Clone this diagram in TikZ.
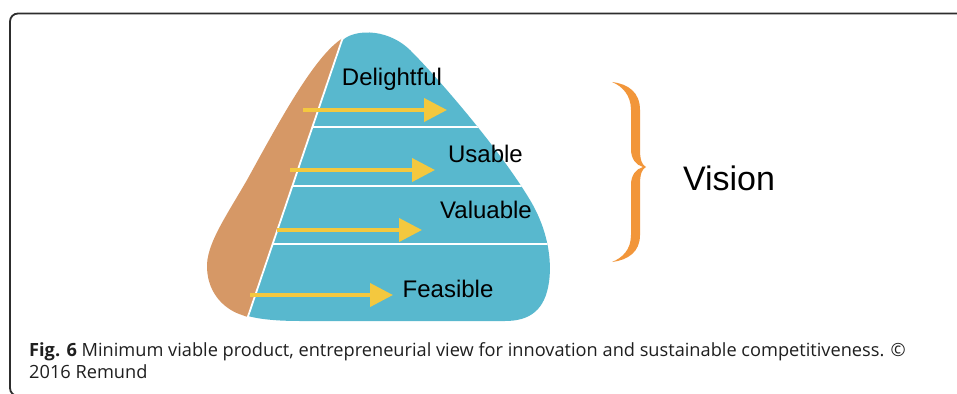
\documentclass[tikz,border=0pt]{standalone}
\usepackage{fontspec}
\setmainfont{Liberation Sans}
\newfontfamily\capfont{Open Sans}
\usetikzlibrary{arrows.meta}
\definecolor{pyrblue}{RGB}{88,184,206}
\definecolor{pyrorange}{RGB}{214,152,102}
\definecolor{arrowyellow}{RGB}{244,200,62}
\definecolor{braceorange}{RGB}{242,150,58}
\definecolor{framegray}{RGB}{45,45,45}
\tikzset{
  frameline/.style={draw=framegray, line width=1.8pt, rounded corners=8pt},
  sepline/.style={draw=white, line width=2.6pt},
  divline/.style={draw=white, line width=1.8pt},
  yarrow/.style={draw=arrowyellow, line width=4pt, -{Triangle[length=23pt,width=23pt]}},
  lbl/.style={anchor=base, inner sep=0pt, text=black, font=\fontsize{24}{28}\selectfont},
  caption/.style={anchor=base west, inner sep=0pt, text=black!88, font=\capfont\fontsize{18.2}{21}\selectfont}
}
\begin{document}
\begin{tikzpicture}[x=1pt,y=-1pt]
\useasboundingbox (0,0) rectangle (957,393);
\fill[white] (0,0) rectangle (957,393);
% frame
\draw[frameline] (970,13.5) -- (10,13.5) -- (10,396) -- (30,396);
% orange part
\fill[pyrorange] (343,38) .. controls (315,55) and (280,120) .. (247,180)
  .. controls (225,218) and (206,245) .. (207,268)
  .. controls (208,295) and (226,310) .. (242,315)
  .. controls (245,316) and (247,317) .. (248,317) -- cycle;
% blue part
\fill[pyrblue] (341,42) .. controls (350,30) and (385,26) .. (410,50)
  .. controls (440,80) and (500,150) .. (530,200)
  .. controls (548,230) and (552,260) .. (549,282)
  .. controls (545,310) and (530,321) .. (505,321)
  -- (300,321) .. controls (270,321) and (255,318) .. (248,316) -- cycle;
\begin{scope}
\clip (341,42) .. controls (350,30) and (385,26) .. (410,50)
  .. controls (440,80) and (500,150) .. (530,200)
  .. controls (548,230) and (552,260) .. (549,282)
  .. controls (545,310) and (530,321) .. (505,321)
  -- (300,321) .. controls (270,321) and (255,318) .. (248,316) -- cycle;
\coordinate (s1a) at (200,127); \coordinate (s1b) at (600,127);
\coordinate (s2a) at (200,186); \coordinate (s2b) at (600,186);
\coordinate (s3a) at (200,244); \coordinate (s3b) at (600,244);
\draw[sepline] (s1a) -- (s1b);
\draw[sepline] (s2a) -- (s2b);
\draw[sepline] (s3a) -- (s3b);
\end{scope}
\coordinate (dtop) at (343,37); \coordinate (dbot) at (247.5,318);
\draw[divline] (dtop) -- (dbot);
% arrows
\coordinate (a1s) at (303,110); \coordinate (a1e) at (447,110);
\coordinate (a2s) at (290,170); \coordinate (a2e) at (435,170);
\coordinate (a3s) at (277,230); \coordinate (a3e) at (422,230);
\coordinate (a4s) at (250,295); \coordinate (a4e) at (393,295);
\draw[yarrow] (a1s) -- (a1e);
\draw[yarrow] (a2s) -- (a2e);
\draw[yarrow] (a3s) -- (a3e);
\draw[yarrow] (a4s) -- (a4e);
% labels
\node[lbl] (delight) at (392,86) {Delightful};
\node[lbl] (usable) at (485.5,162) {Usable};
\node[lbl] (valuable) at (486,218) {Valuable};
\node[lbl] (feasible) at (448,297) {Feasible};
% brace
\fill[braceorange] (612,82) .. controls (628,84) and (640,92) .. (640,110) -- (640,150)
  .. controls (640,160) and (642,165) .. (646,167)
  .. controls (642,169) and (640,174) .. (640,184) -- (640,235)
  .. controls (640,252) and (628,260) .. (612,262)
  .. controls (622,258) and (631,250) .. (631,235) -- (631,185)
  .. controls (631,175) and (636,169) .. (643,167)
  .. controls (636,165) and (631,159) .. (631,149) -- (631,110)
  .. controls (631,95) and (622,86) .. (612,82) -- cycle;
\node[lbl, font=\fontsize{34}{40}\selectfont] (vision) at (729,190) {Vision};
% caption
\node[caption] (cap1) at (29,356.7) {\textbf{Fig. 6} Minimum viable product, entrepreneurial view for innovation and sustainable competitiveness. ©};
\node[caption] (cap2) at (29,378) {2016 Remund};
\end{tikzpicture}
\end{document}
